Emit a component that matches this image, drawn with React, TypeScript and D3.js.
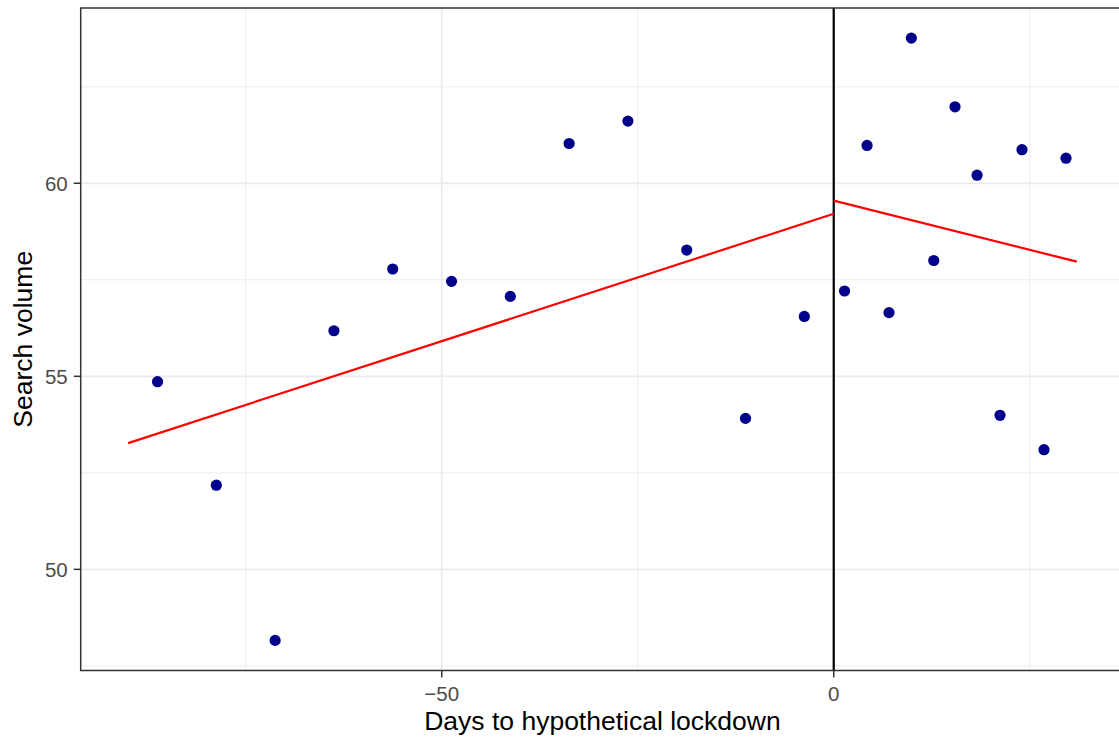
import React from 'react';
import * as d3 from 'd3';

// observations before / after the hypothetical lockdown
const preDays = [-86.25, -78.75, -71.25, -63.75, -56.25, -48.75, -41.25, -33.75, -26.25, -18.75, -11.25, -3.75];
const preVolume = [54.86, 52.18, 48.16, 56.18, 57.78, 57.46, 57.07, 61.03, 61.61, 58.27, 53.91, 56.55];
const postDays = [1.38, 4.25, 7.05, 9.9, 12.76, 15.47, 18.28, 21.21, 24.01, 26.82, 29.63];
const postVolume = [57.21, 60.98, 56.65, 63.76, 58.0, 61.98, 60.21, 53.99, 60.87, 53.1, 60.65];

// fitted regression segments
const preFitDays = [-90, 0];
const preFitVolume = [53.27, 59.21];
const postFitDays = [0, 31];
const postFitVolume = [59.55, 57.97];

const xMajor = [-50, 0];
const xMinor = [-75, -25, 25];
const yMajor = [50, 55, 60];
const yMinor = [47.5, 52.5, 57.5, 62.5];

const W = 1119;
const H = 740;
const left = 80.7;
const right = 1124.2;
const top = 8;
const bottom = 670.5;

const fmt = (v: number) => (v < 0 ? '\u2212' + Math.abs(v) : String(v));

export default function App() {
  const x = d3.scaleLinear().domain([-96.05, 37.05]).range([left, right]);
  const y = d3.scaleLinear().domain([47.38, 64.54]).range([bottom, top]);

  const line = d3
    .line<[number, number]>()
    .x(d => x(d[0]))
    .y(d => y(d[1]));

  const pre = preDays.map((d, i) => [d, preVolume[i]] as [number, number]);
  const post = postDays.map((d, i) => [d, postVolume[i]] as [number, number]);
  const preFit = preFitDays.map((d, i) => [d, preFitVolume[i]] as [number, number]);
  const postFit = postFitDays.map((d, i) => [d, postFitVolume[i]] as [number, number]);

  const font = '"Liberation Sans", Arial, Helvetica, sans-serif';

  return (
    <svg width={W} height={H} style={{ position: 'absolute', left: 0, top: 0, background: '#fff' }} fontFamily={font}>
      <rect x={0} y={0} width={W} height={H} fill="#fff" />
      {/* grid */}
      {yMinor.map(v => (
        <line key={'ym' + v} x1={left} x2={right} y1={y(v)} y2={y(v)} stroke="#ebebeb" strokeWidth={0.9} />
      ))}
      {xMinor.map(v => (
        <line key={'xm' + v} x1={x(v)} x2={x(v)} y1={top} y2={bottom} stroke="#ebebeb" strokeWidth={0.9} />
      ))}
      {yMajor.map(v => (
        <line key={'yM' + v} x1={left} x2={right} y1={y(v)} y2={y(v)} stroke="#ebebeb" strokeWidth={1.8} />
      ))}
      {xMajor.map(v => (
        <line key={'xM' + v} x1={x(v)} x2={x(v)} y1={top} y2={bottom} stroke="#ebebeb" strokeWidth={1.8} />
      ))}

      {/* lockdown line */}
      <line x1={x(0)} x2={x(0)} y1={top} y2={bottom} stroke="#000" strokeWidth={2.2} />

      {/* points */}
      {pre.concat(post).map((d, i) => (
        <circle key={i} cx={x(d[0])} cy={y(d[1])} r={5.6} fill="#00008b" />
      ))}

      {/* fitted lines */}
      <path d={line(preFit) || ''} fill="none" stroke="#ff0000" strokeWidth={2.2} />
      <path d={line(postFit) || ''} fill="none" stroke="#ff0000" strokeWidth={2.2} />

      {/* panel border */}
      <rect x={left} y={top} width={right - left} height={bottom - top} fill="none" stroke="#333" strokeWidth={1.5} />

      {/* x axis */}
      {xMajor.map(v => (
        <g key={'xt' + v}>
          <line x1={x(v)} x2={x(v)} y1={bottom} y2={bottom + 7} stroke="#333" strokeWidth={1.5} />
          <text x={x(v)} y={bottom + 30} textAnchor="middle" fontSize={20.5} fill="#4d4d4d">
            {fmt(v)}
          </text>
        </g>
      ))}
      {/* y axis */}
      {yMajor.map(v => (
        <g key={'yt' + v}>
          <line x1={left - 7} x2={left} y1={y(v)} y2={y(v)} stroke="#333" strokeWidth={1.5} />
          <text x={left - 13} y={y(v)} dy="0.36em" textAnchor="end" fontSize={20.5} fill="#4d4d4d">
            {v}
          </text>
        </g>
      ))}

      <text x={(left + right) / 2} y={730} textAnchor="middle" fontSize={26.5} fill="#000">
        Days to hypothetical lockdown
      </text>
      <text
        transform={`translate(32,${(top + bottom) / 2}) rotate(-90)`}
        textAnchor="middle"
        fontSize={26.5}
        fill="#000"
      >
        Search volume
      </text>
    </svg>
  );
}
